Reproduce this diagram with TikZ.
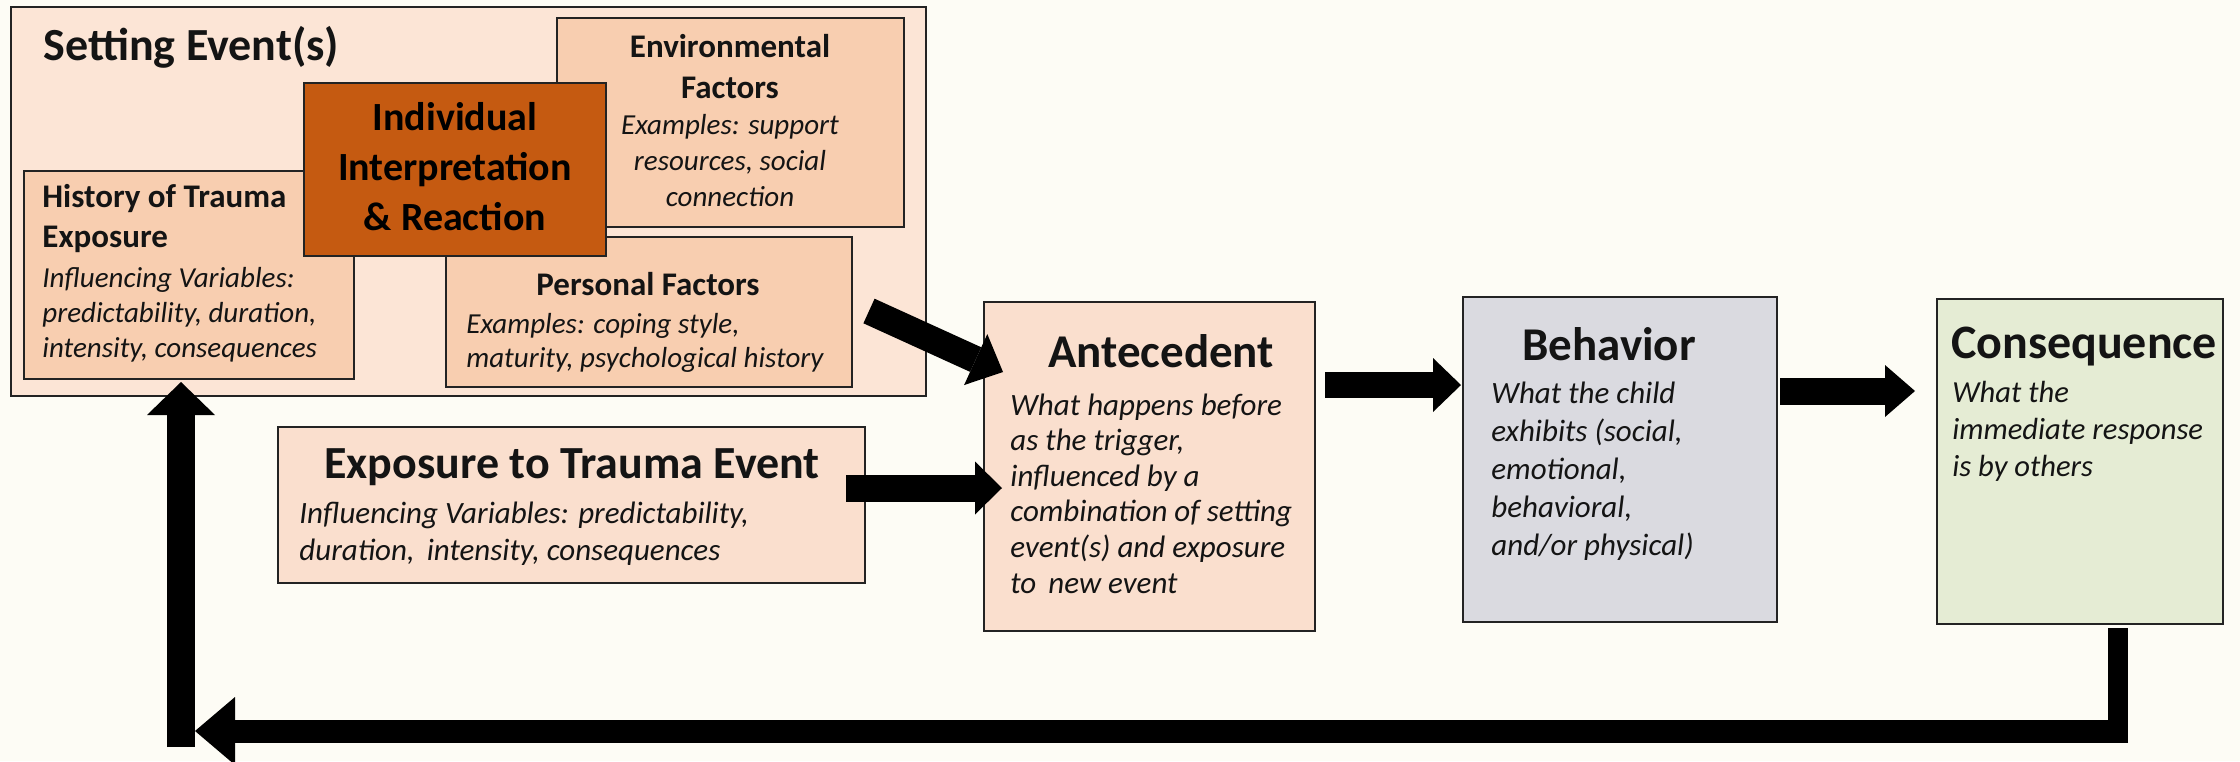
\documentclass[tikz,border=0pt]{standalone}
\usepackage{fontspec}
\setmainfont{Carlito}
\usetikzlibrary{arrows.meta}

\definecolor{bgcol}{RGB}{253,252,245}
\definecolor{setfill}{RGB}{252,229,214}
\definecolor{subfill}{RGB}{248,206,176}
\definecolor{indfill}{RGB}{197,90,17}
\definecolor{expfill}{RGB}{250,223,206}
\definecolor{behfill}{RGB}{218,218,224}
\definecolor{confill}{RGB}{229,236,212}
\definecolor{edge}{RGB}{35,35,35}
\definecolor{ink}{RGB}{20,20,20}

% multi-line text nodes are placed by the baseline of their last line
\tikzset{
  box/.style={draw=edge, line width=1.1pt, inner sep=0pt, outer sep=0pt, anchor=north west},
  ttl/.style={text=ink, inner sep=0pt, align=center, anchor=base},
  itl/.style={text=ink, inner sep=0pt, anchor=base west, align=left},
  fat/.style={draw=black, line width=#1},
  blockarrow/.style n args={3}{draw=black, line width=#1,
    -{Triangle[length=#2, width=#3, line width=0pt]}},
}

\begin{document}
\begin{tikzpicture}[x=0.5pt, y=-0.5pt]
  \useasboundingbox (0,0) rectangle (2240,761);
  \fill[bgcol] (0,0) rectangle (2240,761);

  % setting events group
  \node[box, fill=setfill, minimum width=457.5pt, minimum height=194.5pt] (setting) at (11,7) {};
  \node[inner sep=0pt, anchor=base west, text=ink, font=\bfseries\fontsize{23}{28}\selectfont] (settingT) at (43,60) {Setting Event(s)};

  \node[box, fill=subfill, minimum width=173.5pt, minimum height=104.5pt] (env) at (557,18) {};
  \node[ttl, font=\bfseries\fontsize{16.5}{20.5}\selectfont] (envT) at (730,98) {Environmental\\Factors};
  \node[ttl, font=\itshape\fontsize{14.5}{18}\selectfont] (envX) at (730,206) {Examples: support\\resources, social\\connection};

  \node[box, fill=subfill, minimum width=165pt, minimum height=104pt] (hist) at (24,171) {};
  \node[itl, font=\bfseries\fontsize{16.5}{20}\selectfont] (histT) at (42,247) {History of Trauma\\Exposure};
  \node[itl, font=\itshape\fontsize{14.5}{17.5}\selectfont] (histX) at (42,357) {Influencing Variables:\\predictability, duration,\\intensity, consequences};

  \node[box, fill=subfill, minimum width=203pt, minimum height=75pt] (pers) at (446,237) {};
  \node[ttl, font=\bfseries\fontsize{16.5}{20}\selectfont] (persT) at (648,295) {Personal Factors};
  \node[itl, font=\itshape\fontsize{14.5}{17}\selectfont] (persX) at (466,367) {Examples: coping style,\\maturity, psychological history};

  \node[box, fill=indfill, minimum width=151pt, minimum height=86.5pt] (indiv) at (304,83) {};
  \node[ttl, text=black, font=\bfseries\fontsize{20}{25}\selectfont] (indivT) at (455,230) {Individual\\Interpretation\\\& Reaction};

  % exposure to a new trauma event
  \node[box, fill=expfill, minimum width=293.5pt, minimum height=78pt] (expo) at (278,427) {};
  \node[ttl, font=\bfseries\fontsize{23}{28}\selectfont] (expoT) at (572,478) {Exposure to Trauma Event};
  \node[itl, font=\itshape\fontsize{15.5}{18.5}\selectfont] (expoX) at (299,560) {Influencing Variables: predictability,\\duration,\, intensity, consequences};

  % A-B-C chain
  \node[box, fill=expfill, minimum width=165.5pt, minimum height=164.5pt] (antec) at (984,302) {};
  \node[ttl, font=\bfseries\fontsize{23.5}{28}\selectfont] (antecT) at (1161,367) {Antecedent};
  \node[itl, font=\itshape\fontsize{15.5}{17.8}\selectfont] (antecX) at (1010,593) {What happens before\\as the trigger,\\influenced by a\\combination of setting\\event(s) and exposure\\to\, new event};

  \node[box, fill=behfill, minimum width=157pt, minimum height=162.5pt] (behav) at (1463,297) {};
  \node[ttl, font=\bfseries\fontsize{23.5}{28}\selectfont] (behavT) at (1609,360) {Behavior};
  \node[itl, font=\itshape\fontsize{15.5}{19}\selectfont] (behavX) at (1491,555) {What the child\\exhibits (social,\\emotional,\\behavioral,\\and/or physical)};

  \node[box, fill=confill, minimum width=143pt, minimum height=162.5pt] (conseq) at (1937,299) {};
  \node[ttl, font=\bfseries\fontsize{24}{28}\selectfont] (conseqT) at (2084,358) {Consequence};
  \node[itl, font=\itshape\fontsize{15.3}{18.5}\selectfont] (conseqX) at (1952,476) {What the\\immediate response\\is by others};

  % connector anchor points
  \coordinate (dA) at (869,311);
  \coordinate (dB) at (1003,372);
  \coordinate (eA) at (846,488);
  \coordinate (eB) at (1002,488);
  \coordinate (aA) at (1325,385);
  \coordinate (aB) at (1461,385);
  \coordinate (bA) at (1780,391);
  \coordinate (bB) at (1915,391);
  \coordinate (cTop) at (2118,628);
  \coordinate (cBot) at (2118,742);
  \coordinate (lR) at (2128,731);
  \coordinate (lL) at (195,731);
  \coordinate (uB) at (181,747);
  \coordinate (uT) at (181,382);

  % block arrows
  \draw[blockarrow={13.5pt}{15pt}{28pt}] (dA) -- (dB);
  \draw[blockarrow={13.5pt}{13.5pt}{26.5pt}] (eA) -- (eB);
  \draw[blockarrow={13pt}{14pt}{27pt}] (aA) -- (aB);
  \draw[blockarrow={13.5pt}{15pt}{26pt}] (bA) -- (bB);

  % feedback loop back to the setting events
  \draw[fat=10pt] (cTop) -- (cBot);
  \draw[blockarrow={11.5pt}{20pt}{34pt}] (lR) -- (lL);
  \draw[blockarrow={14pt}{16.5pt}{34pt}] (uB) -- (uT);
\end{tikzpicture}
\end{document}
